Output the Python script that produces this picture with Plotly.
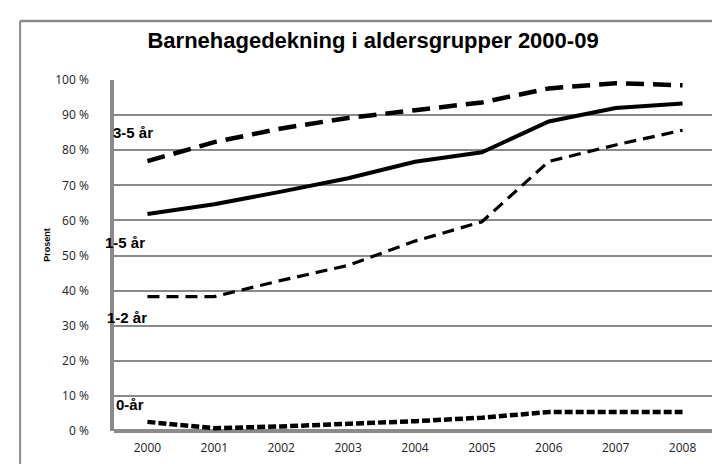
import plotly.graph_objects as go

years = ["2000", "2001", "2002", "2003", "2004", "2005", "2006", "2007", "2008"]
ar_3_5 = [76.9, 82.3, 86.2, 89.2, 91.4, 93.6, 97.6, 99.1, 98.5]
ar_1_5 = [61.8, 64.6, 68.2, 72.0, 76.7, 79.4, 88.2, 92.0, 93.3]
ar_1_2 = [38.3, 38.3, 42.9, 47.2, 54.1, 59.6, 76.8, 81.5, 85.7]
ar_0 = [2.6, 0.8, 1.3, 2.0, 2.8, 3.8, 5.4, 5.4, 5.4]
y_ticks = [0, 10, 20, 30, 40, 50, 60, 70, 80, 90, 100]

series = [
    ("3-5 år", ar_3_5, 4.5, "18px,9px"),
    ("1-5 år", ar_1_5, 4, "solid"),
    ("1-2 år", ar_1_2, 3.2, "12px,7px"),
    ("0-år", ar_0, 4.5, "8px,3px"),
]

# label position (paper x, value y)
label_pos = {"3-5 år": (-0.005, 85.0), "1-5 år": (-0.018, 53.8),
             "1-2 år": (-0.015, 32.3), "0-år": (0.0, 7.6)}

fig = go.Figure()
idx = list(range(len(years)))
for name, vals, w, dash in series:
    fig.add_trace(go.Scatter(x=idx, y=vals, mode="lines", name=name,
                             line=dict(color="black", width=w, dash=dash),
                             showlegend=False, hoverinfo="skip"))

for name, (px, py) in label_pos.items():
    fig.add_annotation(x=px, y=py, xref="paper", yref="y", text="<b>" + name + "</b>",
                       showarrow=False, xanchor="left", yanchor="middle",
                       font=dict(family="Liberation Sans", size=15, color="black"))

# y-axis title
fig.add_annotation(x=-0.1, y=0.53, xref="paper", yref="paper", text="<b>Prosent</b>",
                   textangle=-90, showarrow=False, xanchor="right", yanchor="middle",
                   font=dict(family="Liberation Sans", size=9, color="black"))

# outer frame (left and top edges)
fig.add_shape(type="line", xref="paper", yref="paper", x0=-0.156, x1=-0.156, y0=-0.2, y1=1.168,
              line=dict(color="#8a8a8a", width=2), layer="below")
fig.add_shape(type="line", xref="paper", yref="paper", x0=-0.156, x1=1.1, y0=1.168, y1=1.168,
              line=dict(color="#8a8a8a", width=2.5), layer="below")

fig.update_layout(
    width=720, height=464,
    margin=dict(l=106, r=12, t=72, b=41),
    paper_bgcolor="white", plot_bgcolor="white",
    title=dict(text="<b>Barnehagedekning i aldersgrupper 2000-09</b>", x=0.507, xanchor="center",
               y=0.93, yanchor="middle",
               font=dict(family="Liberation Sans", size=22, color="black")),
    xaxis=dict(range=[-0.5, 8.5], tickmode="array", tickvals=idx, ticktext=years,
               showgrid=False, zeroline=False, showline=False, ticks="",
               tickfont=dict(family="Open Sans", size=12, color="#222"),
               ticklabelstandoff=8),
    yaxis=dict(range=[0, 100], tickmode="array", tickvals=y_ticks,
               ticktext=[str(v) + " %" for v in y_ticks],
               showgrid=True, gridcolor="#8a8a8a", gridwidth=2,
               zeroline=True, zerolinecolor="#8a8a8a", zerolinewidth=3.5,
               showline=True, linecolor="#8a8a8a", linewidth=3.5,
               ticks="", ticklabelstandoff=19,
               tickfont=dict(family="Open Sans", size=12, color="#222")),
)

fig.write_html("out.html")
